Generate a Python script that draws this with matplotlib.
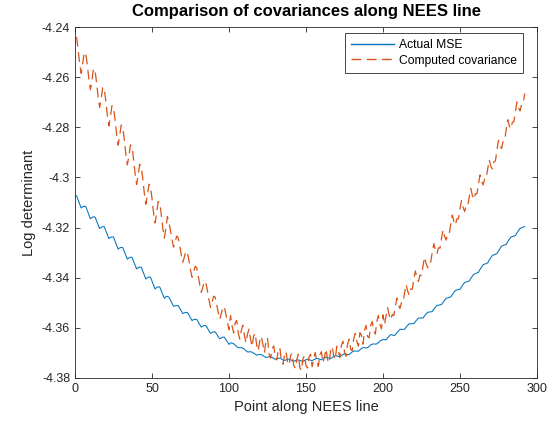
import matplotlib
matplotlib.use('Agg')
import matplotlib.pyplot as plt
import numpy as np
from matplotlib.ticker import FuncFormatter

plt.rcParams.update({
    'font.family': ['Liberation Sans', 'DejaVu Sans'],
    'font.size': 9,
    'axes.unicode_minus': False,
    'axes.linewidth': 0.6,
    'axes.edgecolor': '#262626',
    'xtick.color': '#262626',
    'ytick.color': '#262626',
    'xtick.direction': 'in',
    'ytick.direction': 'in',
    'xtick.top': True,
    'ytick.right': True,
    'xtick.major.size': 3.5,
    'ytick.major.size': 3.5,
    'xtick.major.width': 0.6,
    'ytick.major.width': 0.6,
    'lines.scale_dashes': False,
})

MSE_COLOR = '#0072BD'
COV_COLOR = '#D95319'

# Actual MSE, log determinant per point along the NEES line
mse = [
    -4.3073, -4.3089, -4.3105, -4.3122, -4.3117, -4.3115, -4.3116, -4.3132, -4.3149, -4.3165,
    -4.3160, -4.3157, -4.3158, -4.3173, -4.3189, -4.3204, -4.3199, -4.3196, -4.3197, -4.3212,
    -4.3228, -4.3244, -4.3239, -4.3237, -4.3238, -4.3254, -4.3270, -4.3286, -4.3281, -4.3279,
    -4.3280, -4.3295, -4.3311, -4.3326, -4.3321, -4.3318, -4.3319, -4.3334, -4.3350, -4.3365,
    -4.3360, -4.3357, -4.3358, -4.3374, -4.3389, -4.3405, -4.3400, -4.3397, -4.3398, -4.3414,
    -4.3429, -4.3445, -4.3439, -4.3436, -4.3437, -4.3452, -4.3467, -4.3482, -4.3476, -4.3474,
    -4.3478, -4.3490, -4.3502, -4.3514, -4.3512, -4.3511, -4.3511, -4.3522, -4.3532, -4.3543,
    -4.3540, -4.3538, -4.3539, -4.3549, -4.3560, -4.3571, -4.3567, -4.3566, -4.3566, -4.3576,
    -4.3587, -4.3597, -4.3593, -4.3591, -4.3591, -4.3601, -4.3612, -4.3622, -4.3618, -4.3616,
    -4.3616, -4.3625, -4.3635, -4.3644, -4.3640, -4.3637, -4.3637, -4.3647, -4.3656, -4.3666,
    -4.3660, -4.3661, -4.3663, -4.3669, -4.3675, -4.3679, -4.3679, -4.3679, -4.3681, -4.3685,
    -4.3691, -4.3696, -4.3696, -4.3695, -4.3697, -4.3701, -4.3705, -4.3709, -4.3707, -4.3706,
    -4.3707, -4.3710, -4.3715, -4.3718, -4.3717, -4.3715, -4.3715, -4.3718, -4.3722, -4.3725,
    -4.3723, -4.3721, -4.3721, -4.3724, -4.3728, -4.3730, -4.3728, -4.3725, -4.3725, -4.3727,
    -4.3731, -4.3733, -4.3731, -4.3728, -4.3728, -4.3730, -4.3732, -4.3734, -4.3730, -4.3727,
    -4.3725, -4.3727, -4.3729, -4.3731, -4.3727, -4.3724, -4.3722, -4.3723, -4.3726, -4.3727,
    -4.3723, -4.3719, -4.3717, -4.3719, -4.3721, -4.3722, -4.3718, -4.3714, -4.3711, -4.3712,
    -4.3714, -4.3715, -4.3711, -4.3706, -4.3704, -4.3705, -4.3707, -4.3707, -4.3701, -4.3696,
    -4.3693, -4.3692, -4.3693, -4.3693, -4.3688, -4.3682, -4.3679, -4.3679, -4.3680, -4.3679,
    -4.3674, -4.3668, -4.3665, -4.3664, -4.3665, -4.3664, -4.3659, -4.3653, -4.3649, -4.3647,
    -4.3647, -4.3648, -4.3640, -4.3633, -4.3627, -4.3628, -4.3631, -4.3628, -4.3619, -4.3613,
    -4.3606, -4.3606, -4.3606, -4.3606, -4.3597, -4.3590, -4.3584, -4.3584, -4.3583, -4.3583,
    -4.3575, -4.3568, -4.3561, -4.3561, -4.3560, -4.3561, -4.3552, -4.3545, -4.3538, -4.3537,
    -4.3536, -4.3535, -4.3525, -4.3518, -4.3510, -4.3510, -4.3508, -4.3507, -4.3498, -4.3490,
    -4.3482, -4.3481, -4.3478, -4.3477, -4.3467, -4.3459, -4.3451, -4.3449, -4.3447, -4.3446,
    -4.3436, -4.3427, -4.3419, -4.3417, -4.3415, -4.3413, -4.3403, -4.3394, -4.3386, -4.3384,
    -4.3381, -4.3378, -4.3367, -4.3358, -4.3348, -4.3346, -4.3343, -4.3341, -4.3329, -4.3320,
    -4.3311, -4.3309, -4.3306, -4.3304, -4.3293, -4.3284, -4.3274, -4.3272, -4.3269, -4.3267,
    -4.3256, -4.3247, -4.3238, -4.3236, -4.3234, -4.3232, -4.3221, -4.3212, -4.3203, -4.3201,
    -4.3198, -4.3196,
]

# Computed covariance, log determinant per point
cov = [
    -4.2440, -4.2488, -4.2543, -4.2585, -4.2547, -4.2501, -4.2505, -4.2553, -4.2608, -4.2650,
    -4.2612, -4.2566, -4.2572, -4.2622, -4.2678, -4.2721, -4.2685, -4.2640, -4.2646, -4.2695,
    -4.2752, -4.2795, -4.2758, -4.2714, -4.2720, -4.2770, -4.2827, -4.2871, -4.2835, -4.2791,
    -4.2798, -4.2849, -4.2906, -4.2950, -4.2914, -4.2870, -4.2877, -4.2927, -4.2984, -4.3028,
    -4.2992, -4.2948, -4.2955, -4.3005, -4.3063, -4.3107, -4.3071, -4.3027, -4.3034, -4.3084,
    -4.3141, -4.3182, -4.3143, -4.3096, -4.3100, -4.3147, -4.3201, -4.3242, -4.3203, -4.3156,
    -4.3180, -4.3212, -4.3248, -4.3278, -4.3258, -4.3234, -4.3240, -4.3272, -4.3308, -4.3338,
    -4.3318, -4.3294, -4.3300, -4.3332, -4.3368, -4.3398, -4.3378, -4.3354, -4.3360, -4.3392,
    -4.3428, -4.3458, -4.3438, -4.3414, -4.3420, -4.3452, -4.3488, -4.3518, -4.3498, -4.3474,
    -4.3477, -4.3506, -4.3539, -4.3566, -4.3543, -4.3515, -4.3518, -4.3547, -4.3580, -4.3607,
    -4.3551, -4.3593, -4.3620, -4.3580, -4.3570, -4.3620, -4.3645, -4.3610, -4.3590, -4.3630,
    -4.3660, -4.3625, -4.3605, -4.3645, -4.3675, -4.3633, -4.3621, -4.3669, -4.3692, -4.3650,
    -4.3633, -4.3666, -4.3699, -4.3652, -4.3640, -4.3703, -4.3721, -4.3684, -4.3672, -4.3710,
    -4.3728, -4.3691, -4.3679, -4.3727, -4.3745, -4.3712, -4.3694, -4.3736, -4.3748, -4.3710,
    -4.3702, -4.3749, -4.3761, -4.3728, -4.3705, -4.3760, -4.3770, -4.3725, -4.3710, -4.3750,
    -4.3760, -4.3715, -4.3705, -4.3755, -4.3720, -4.3698, -4.3736, -4.3754, -4.3707, -4.3695,
    -4.3738, -4.3716, -4.3684, -4.3727, -4.3740, -4.3688, -4.3675, -4.3713, -4.3725, -4.3673,
    -4.3690, -4.3718, -4.3670, -4.3653, -4.3695, -4.3713, -4.3665, -4.3645, -4.3686, -4.3691,
    -4.3642, -4.3622, -4.3653, -4.3673, -4.3619, -4.3629, -4.3665, -4.3610, -4.3590, -4.3635,
    -4.3640, -4.3590, -4.3575, -4.3610, -4.3625, -4.3575, -4.3550, -4.3585, -4.3604, -4.3548,
    -4.3587, -4.3551, -4.3520, -4.3549, -4.3568, -4.3547, -4.3551, -4.3515, -4.3481, -4.3507,
    -4.3523, -4.3499, -4.3500, -4.3461, -4.3427, -4.3453, -4.3469, -4.3445, -4.3446, -4.3407,
    -4.3373, -4.3399, -4.3415, -4.3390, -4.3391, -4.3352, -4.3318, -4.3344, -4.3360, -4.3336,
    -4.3337, -4.3298, -4.3264, -4.3290, -4.3305, -4.3281, -4.3282, -4.3243, -4.3209, -4.3235,
    -4.3250, -4.3225, -4.3225, -4.3185, -4.3150, -4.3175, -4.3190, -4.3165, -4.3165, -4.3125,
    -4.3092, -4.3119, -4.3136, -4.3113, -4.3115, -4.3077, -4.3044, -4.3071, -4.3088, -4.3065,
    -4.3065, -4.3025, -4.2990, -4.3015, -4.3030, -4.3005, -4.3005, -4.2965, -4.2930, -4.2955,
    -4.2966, -4.2938, -4.2934, -4.2890, -4.2852, -4.2873, -4.2885, -4.2856, -4.2852, -4.2809,
    -4.2770, -4.2793, -4.2806, -4.2780, -4.2778, -4.2736, -4.2699, -4.2722, -4.2735, -4.2709,
    -4.2707, -4.2665,
]

x_ticks = [0, 50, 100, 150, 200, 250, 300]
y_ticks = [-4.38, -4.36, -4.34, -4.32, -4.30, -4.28, -4.26, -4.24]

pts = np.arange(1, len(mse) + 1)

fig = plt.figure(figsize=(5.57, 4.24), dpi=100)
ax = fig.add_axes([75 / 557, 46 / 424, 462 / 557, 351 / 424])

ax.plot(pts, mse, color=MSE_COLOR, linewidth=0.75, label='Actual MSE')
ax.plot(pts, cov, color=COV_COLOR, linewidth=0.9, linestyle='--',
        dashes=(7, 4), label='Computed covariance')

ax.set_xlim(0, 300)
ax.set_ylim(-4.38, -4.24)
ax.set_xticks(x_ticks)
ax.set_yticks(y_ticks)
ax.yaxis.set_major_formatter(FuncFormatter(lambda v, _: f'{v:g}'))

ax.set_xlabel('Point along NEES line', fontsize=10.5, color='#262626')
ax.set_ylabel('Log determinant', fontsize=10.5, color='#262626')
ax.set_title('Comparison of covariances along NEES line', fontsize=12,
             fontweight='bold', pad=8)

leg = ax.legend(loc='upper right', bbox_to_anchor=(0.970, 0.983),
                borderaxespad=0, fontsize=8.7, fancybox=False, framealpha=1,
                edgecolor='#262626', handlelength=3.6, borderpad=0.5,
                labelspacing=0.3, handletextpad=0.4)
leg.get_frame().set_linewidth(0.6)
for h in leg.get_lines():
    h.set_linewidth(1.0)

fig.savefig('out.png', dpi=100)
